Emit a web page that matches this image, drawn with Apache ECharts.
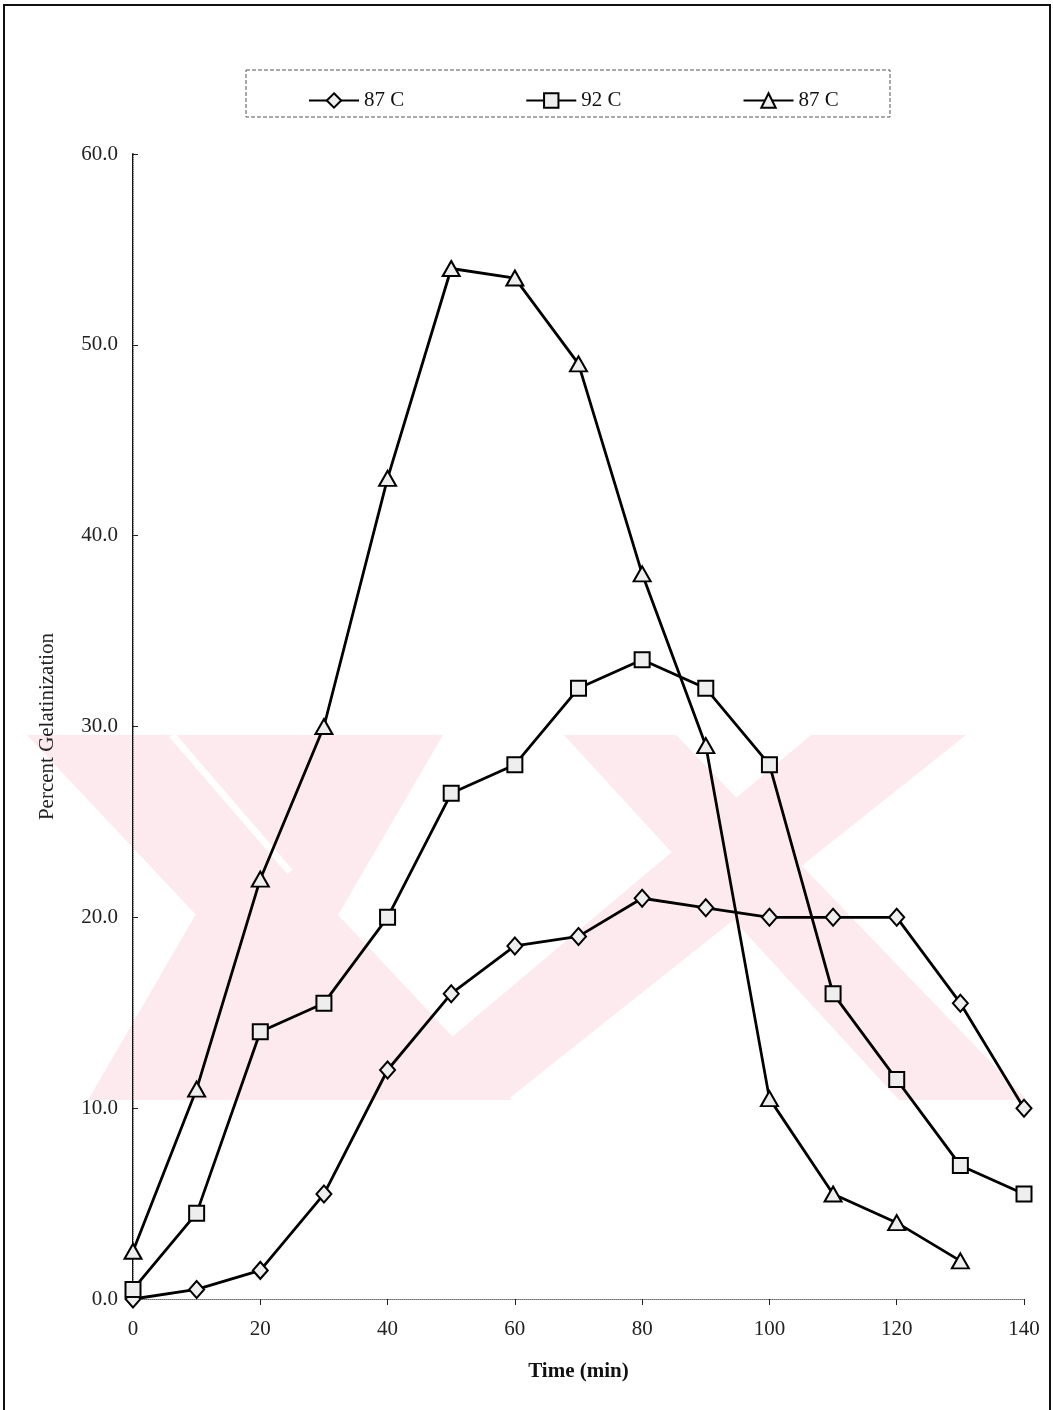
<!DOCTYPE html>
<html>
<head>
<meta charset="utf-8">
<script src="https://cdn.jsdelivr.net/npm/echarts@6/dist/echarts.min.js"></script>
<style>
html,body{margin:0;padding:0;background:#fff;}
#c{width:1053px;height:1410px;}
</style>
</head>
<body>
<div id="c"></div>
<script>
var times = [0,10,20,30,40,50,60,70,80,90,100,110,120,130,140];
var seriesNames = ['87 C','92 C','87 C '];
var diamond87 = [0.0,0.5,1.5,5.5,12.0,16.0,18.5,19.0,21.0,20.5,20.0,20.0,20.0,15.5,10.0];
var square92 = [0.5,4.5,14.0,15.5,20.0,26.5,28.0,32.0,33.5,32.0,28.0,16.0,11.5,7.0,5.5];
var triangle87 = [2.5,11.0,22.0,30.0,43.0,54.0,53.5,49.0,38.0,29.0,10.5,5.5,4.0,2.0];

function pairs(xs, ys){ return ys.map(function(v,i){ return [xs[i], v]; }); }

var FONT = '"Liberation Serif", "DejaVu Serif", serif';
var chart = echarts.init(document.getElementById('c'), null, {renderer:'canvas'});

// faint watermark in the background (decorative)
var pink = '#fdeaee';
function poly(pts){ return {type:'polygon', shape:{points:pts}, style:{fill:pink}, z:-10, silent:true}; }
var T = 735, B = 1100;
var wm = [
  // left shape
  poly([[27,T],[169,T],[512,B],[370,B]]),
  poly([[300,T],[443,T],[230,B],[88,B]]),
  poly([[169,T],[300,T],[267,900],[230,860]]),
  poly([[230,B],[370,B],[300,975]]),
  {type:'line', shape:{x1:172,y1:T,x2:290,y2:872}, style:{stroke:'#fff', lineWidth:7}, z:-9, silent:true},
  // right shape
  poly([[564,T],[676,T],[1027,B],[899,B]]),
  poly([[811,T],[966,T],[507,B],[377,B]])
];

var symStyle = {color:'#eeeeee', borderColor:'#000', borderWidth:2};
function mkSeries(name, data, symbol, size){
  return {
    name:name, type:'line', data:data, symbol:symbol, symbolSize:size,
    showAllSymbol:true,
    lineStyle:{color:'#000', width:2.8},
    itemStyle:symStyle,
    z:5
  };
}

chart.setOption({
  animation:false,
  backgroundColor:'#fff',
  textStyle:{fontFamily:FONT},
  grid:{left:133, right:29, top:154, bottom:111, containLabel:false},
  legend:{
    left:303, top:85, itemWidth:50, itemHeight:18, itemGap:121,
    data:seriesNames,
    formatter:function(n){ return n.trim(); },
    textStyle:{fontFamily:FONT, fontSize:21, color:'#111'}
  },
  graphic: wm.concat([
    {type:'rect', shape:{x:246,y:70,width:644,height:47}, style:{fill:'none', stroke:'#555', lineWidth:1, lineDash:[4,2]}, z:1, silent:true},
    {type:'polyline', shape:{points:[[4,1410],[4,5],[1050,5],[1050,1410]]}, style:{fill:'none', stroke:'#111', lineWidth:2}, z:1, silent:true}
  ]),
  xAxis:[{
    type:'value', min:0, max:140, interval:20,
    name:'Time (min)', nameLocation:'middle', nameGap:62,
    nameTextStyle:{fontFamily:FONT, fontSize:21, fontWeight:'bold', color:'#111'},
    axisLine:{lineStyle:{color:'#222', width:1.2}},
    axisTick:{show:true, length:6, lineStyle:{color:'#222'}},
    axisLabel:{fontFamily:FONT, fontSize:21, color:'#222', margin:20},
    splitLine:{show:false}
  },{
    type:'value', min:0, max:140, interval:20, position:'top',
    axisLine:{show:true, lineStyle:{color:'#999', width:1, type:'dotted'}},
    axisTick:{show:false}, axisLabel:{show:false}, splitLine:{show:false}
  }],
  yAxis:[{
    type:'value', min:0, max:60, interval:10,
    name:'Percent Gelatinization', nameLocation:'middle', nameGap:75, nameRotate:90,
    nameTextStyle:{fontFamily:FONT, fontSize:21, color:'#222'},
    axisLine:{show:true, lineStyle:{color:'#111', width:2}},
    axisTick:{show:true, inside:true, length:5, lineStyle:{color:'#222'}},
    axisLabel:{fontFamily:FONT, fontSize:21, color:'#222', margin:15,
      formatter:function(v){ return v.toFixed(1); }},
    splitLine:{show:false}
  },{
    type:'value', min:0, max:60, interval:10, position:'right',
    axisLine:{show:true, lineStyle:{color:'#bbb', width:1, type:'dotted'}},
    axisTick:{show:false}, axisLabel:{show:false}, splitLine:{show:false}
  }],
  series:[
    mkSeries(seriesNames[0], pairs(times, diamond87), 'diamond', [15,17]),
    mkSeries(seriesNames[1], pairs(times, square92), 'rect', 15),
    mkSeries(seriesNames[2], pairs(times, triangle87), 'triangle', [17,15])
  ]
});
</script>
</body>
</html>
